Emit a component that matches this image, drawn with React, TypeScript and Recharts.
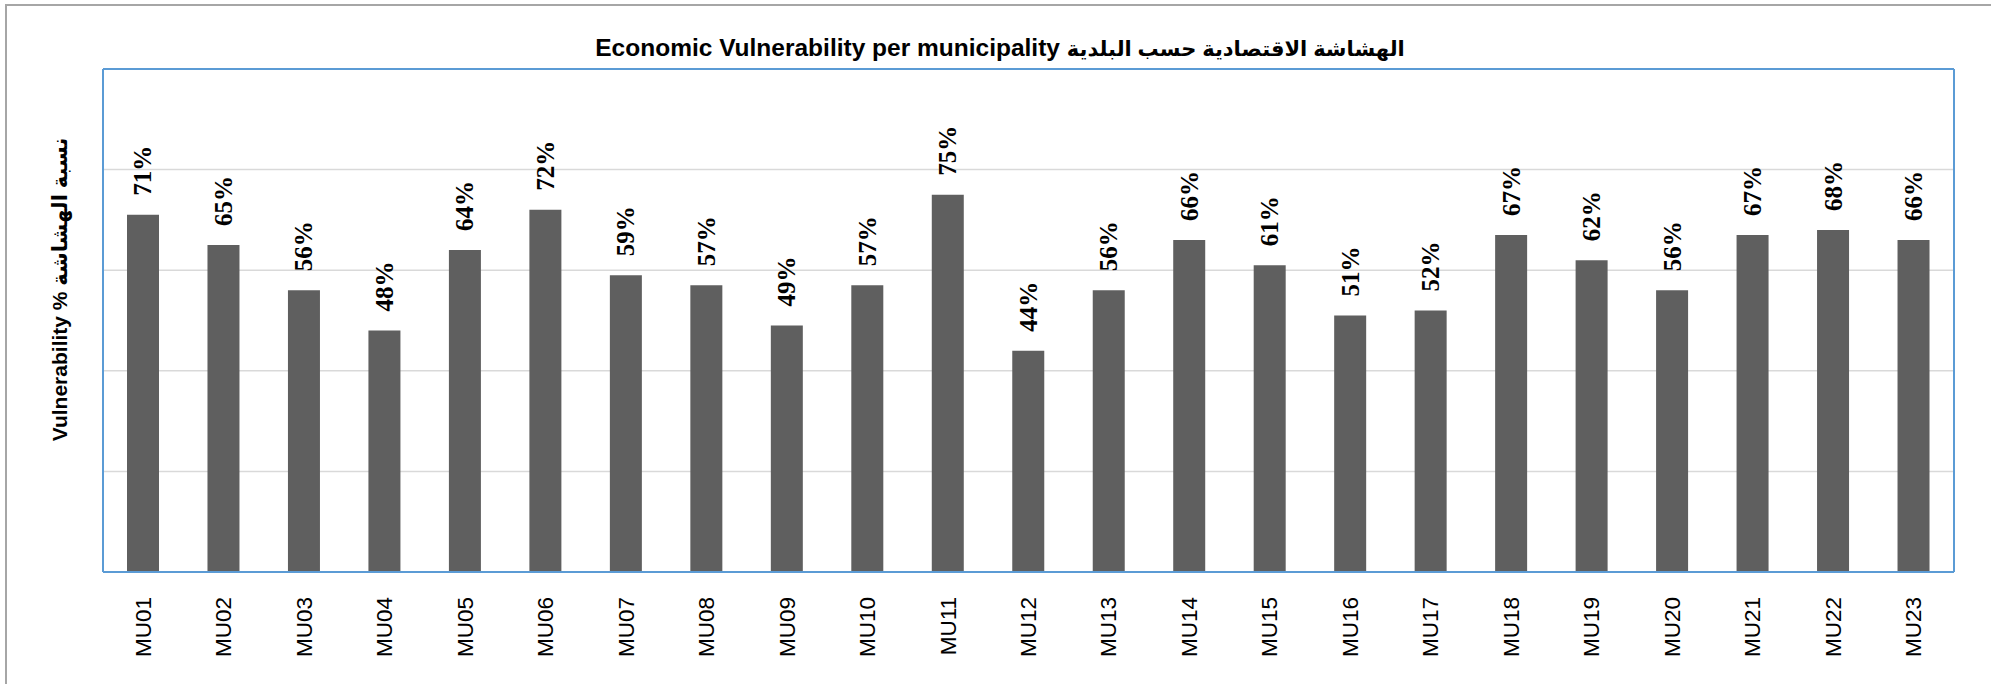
import React from "react";
import {
  BarChart,
  Bar,
  XAxis,
  YAxis,
  CartesianGrid,
  LabelList,
} from "recharts";

const categories = [
  "MU01", "MU02", "MU03", "MU04", "MU05", "MU06", "MU07", "MU08",
  "MU09", "MU10", "MU11", "MU12", "MU13", "MU14", "MU15", "MU16",
  "MU17", "MU18", "MU19", "MU20", "MU21", "MU22", "MU23",
];

// % vulnerability per municipality
const vulnerability = [
  71, 65, 56, 48, 64, 72, 59, 57, 49, 57, 75, 44,
  56, 66, 61, 51, 52, 67, 62, 56, 67, 68, 66,
];

const gridTicks = [0, 20, 40, 60, 80, 100];

const titleEn = "Economic Vulnerability per municipality";
const titleAr = "الهشاشة الاقتصادية حسب البلدية";
const yAxisText = "Vulnerability % نسبة الهشاشة";

const data = categories.map((name, i) => ({ name, value: vulnerability[i] }));

const BLUE = "#5b9bd5";
const SANS = "'Liberation Sans', Arial, 'DejaVu Sans', sans-serif";
const SERIF = "'Liberation Serif', 'Times New Roman', serif";

const BarLabel = (props: any) => {
  const { x, y, width, value } = props;
  const cx = Number(x) + Number(width) / 2;
  const ty = Number(y) - 19;
  return (
    <text
      x={cx}
      y={ty}
      transform={`rotate(-90 ${cx} ${ty})`}
      textAnchor="start"
      dominantBaseline="central"
      fontFamily={SERIF}
      fontWeight="bold"
      fontSize={25}
      fill="#000"
    >
      {value}%
    </text>
  );
};

const XTick = (props: any) => {
  const { x, y, payload } = props;
  return (
    <text
      x={x}
      y={y}
      transform={`rotate(-90 ${x} ${y})`}
      textAnchor="end"
      dominantBaseline="central"
      fontFamily={SANS}
      fontSize={22.5}
      fill="#000"
    >
      {payload.value}
    </text>
  );
};

const NoTick = () => <g />;

const YLabel = (props: any) => {
  const vb = props.viewBox || { x: 0, y: 69, width: 103, height: 503 };
  const tx = vb.x + 59;
  const ty = vb.y + vb.height / 2 - 31;
  return (
    <text
      x={tx}
      y={ty}
      transform={`rotate(-90 ${tx} ${ty})`}
      textAnchor="middle"
      dominantBaseline="central"
      fontFamily={SANS}
      fontWeight="bold"
      fontSize={21}
      fill="#000"
    >
      {yAxisText}
    </text>
  );
};

export default function App() {
  return (
    <div
      style={{
        position: "absolute",
        left: 0,
        top: 0,
        width: 1991,
        height: 684,
        overflow: "hidden",
        background: "#fff",
      }}
    >
      <div
        style={{
          position: "absolute",
          left: 5,
          top: 4,
          width: 2100,
          height: 800,
          borderLeft: "2px solid #a6a6a6",
          borderTop: "2px solid #a6a6a6",
        }}
      />
      <div
        style={{
          position: "absolute",
          left: 0,
          top: 36,
          width: 2000,
          textAlign: "center",
          fontFamily: SANS,
          fontWeight: "bold",
          fontSize: 24.5,
          lineHeight: "24px",
          color: "#000",
          whiteSpace: "nowrap",
        }}
      >
        {titleEn} <span style={{ fontSize: 21 }}>{titleAr}</span>
      </div>
      <div style={{ position: "absolute", left: 0, top: 0 }}>
        <BarChart
          width={1991}
          height={684}
          data={data}
          margin={{ top: 0, right: 0, left: 0, bottom: 0 }}
        >
          <CartesianGrid
            vertical={false}
            stroke="#d9d9d9"
            strokeWidth={1.5}
          />
          <XAxis
            dataKey="name"
            height={112}
            tickLine={false}
            tickSize={0}
            tickMargin={25}
            tick={<XTick />}
            interval={0}
            axisLine={{ stroke: BLUE, strokeWidth: 2 }}
          />
          <XAxis
            xAxisId="top"
            orientation="top"
            dataKey="name"
            height={69}
            tick={false}
            tickLine={false}
            axisLine={{ stroke: BLUE, strokeWidth: 2 }}
          />
          <YAxis
            width={103}
            domain={[0, 100]}
            ticks={gridTicks}
            tick={<NoTick />}
            tickLine={false}
            axisLine={{ stroke: BLUE, strokeWidth: 2 }}
            label={{ content: <YLabel /> }}
          />
          <YAxis
            yAxisId="right"
            orientation="right"
            width={37}
            domain={[0, 100]}
            ticks={gridTicks}
            tick={false}
            tickLine={false}
            axisLine={{ stroke: BLUE, strokeWidth: 2 }}
          />
          <Bar
            dataKey="value"
            fill="#5f5f5f"
            barSize={32}
            isAnimationActive={false}
          >
            <LabelList dataKey="value" content={<BarLabel />} />
          </Bar>
        </BarChart>
      </div>
    </div>
  );
}
